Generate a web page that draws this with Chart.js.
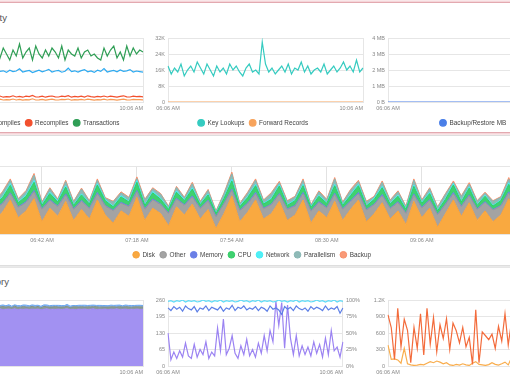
<!DOCTYPE html>
<html>
<head>
<meta charset="utf-8">
<script src="https://cdn.jsdelivr.net/npm/chart.js@4.4.1/dist/chart.umd.min.js"></script>
<style>
html, body { margin: 0; padding: 0; background: #fff; }
body { width: 510px; height: 382px; overflow: hidden; position: relative; font-family: "Liberation Sans", Arial, sans-serif; }
.panel { position: absolute; background: #fff; }
#p1 { left: -10px; top: 2px; width: 530px; height: 129px; border: 1px solid #e3a9b0; box-shadow: 0 0 0 1px #f5d5d9, 0 0 3px 1px #f0c0c6; }
#p2 { left: -10px; top: 135px; width: 530px; height: 129px; border: 1px solid #dedede; box-shadow: 0 1px 2px rgba(0,0,0,.12); }
#p3 { left: -10px; top: 267px; width: 530px; height: 130px; border-top: 1px solid #e6e6e6; }
.title { position: absolute; font-size: 9.5px; color: #555; white-space: nowrap; }
canvas { position: absolute; }
</style>
</head>
<body>
<div class="panel" id="p1"></div>
<div class="panel" id="p2"></div>
<div class="panel" id="p3"></div>
<div class="title" style="right:503px; top:12px;">Activity</div>
<div class="title" style="right:501px; top:276px;">Memory</div>

<canvas id="act1" width="225" height="106" style="left:-79px; top:30px;"></canvas>
<canvas id="act2" width="225" height="106" style="left:141px; top:30px;"></canvas>
<canvas id="act3" width="225" height="106" style="left:361px; top:30px;"></canvas>
<canvas id="waits" width="656" height="110" style="left:-76px; top:158px;"></canvas>
<canvas id="mem1" width="205" height="108" style="left:-59px; top:292px;"></canvas>
<canvas id="mem2" width="222" height="108" style="left:141px; top:292px;"></canvas>
<canvas id="mem3" width="225" height="108" style="left:361px; top:292px;"></canvas>

<script>
// ---- data: activity panel (thousands per interval, 4 min steps) ----
var batchesK = [
  15.2, 15.8, 14.9, 15.5, 16.1, 15.0, 15.6, 14.8, 15.9, 15.3,
  16.4, 15.1, 15.7, 14.9, 15.4, 16.0, 15.3, 15.6, 14.8, 15.9,
  15.2, 15.5, 16.6, 15.0, 15.4, 15.8, 14.7, 15.3, 15.9, 15.1,
  15.6, 16.3, 15.0, 15.5, 15.8, 14.9, 15.4, 16.9, 15.2, 15.6,
  15.0, 15.7, 16.2, 15.1, 15.5, 14.8, 15.9, 15.3, 16.7, 15.0,
  15.4, 15.8, 15.1, 16.0, 15.3, 15.6, 16.2, 15.0, 15.5, 15.2,
  14.9
];
var compilesK = [
  1.1, 1.3, 0.9, 1.2, 1.4, 1.0, 1.2, 0.8, 1.3, 1.1,
  1.5, 1.0, 1.2, 1.3, 0.9, 1.1, 1.4, 1.0, 1.2, 1.1,
  1.5, 1.0, 1.3, 0.9, 1.2, 1.1, 1.6, 1.0, 1.1, 1.3,
  0.9, 1.2, 1.4, 1.1, 1.0, 1.3, 1.2, 1.5, 0.9, 1.2,
  1.1, 1.3, 1.0, 1.4, 1.2, 0.9, 1.2, 1.1, 1.4, 1.0,
  1.3, 1.2, 0.9, 1.2, 1.4, 1.1, 1.0, 1.3, 1.2, 1.2,
  1.1
];
var recompilesK = [
  2.6, 2.9, 2.4, 2.7, 3.1, 2.5, 2.8, 2.3, 2.9, 2.6,
  3.2, 2.4, 2.7, 2.9, 2.5, 2.8, 3.0, 2.4, 2.7, 2.6,
  3.1, 2.5, 2.8, 2.4, 2.9, 2.7, 3.3, 2.5, 2.6, 2.9,
  2.4, 2.8, 3.0, 2.6, 2.5, 2.9, 2.7, 3.2, 2.4, 2.8,
  2.6, 2.9, 2.5, 3.1, 2.7, 2.4, 2.8, 2.6, 3.0, 2.5,
  2.9, 2.7, 2.4, 2.8, 3.1, 2.6, 2.5, 2.9, 2.7, 2.8,
  2.6
];
var transactionsK = [
  25, 22, 27, 21, 26, 24, 28, 22, 26, 23,
  27, 21, 25, 28, 23, 26, 22, 27, 24, 21,
  26, 23, 29, 22, 25, 27, 21, 28, 24, 22,
  26, 23, 27, 25, 22, 28, 21, 26, 24, 23,
  27, 22, 25, 26, 23, 24, 22, 21, 27, 23,
  26, 28, 22, 25, 21, 28, 23, 27, 24, 26,
  25
];
var keyLookupsK = [
  18, 14, 17, 15, 19, 13, 16, 18, 15, 20,
  17, 14, 19, 16, 13, 18, 15, 17, 14, 19,
  16, 18, 15, 13, 17, 19, 15, 16, 14, 30,
  19, 15, 17, 14, 16, 18, 15, 19, 14, 17,
  16, 20, 15, 18, 14, 16, 17, 15, 19, 14,
  16, 18, 15, 17, 20, 16, 18, 15, 21, 15,
  17
];
var forwardRecordsK = [
  0, 0, 0, 0, 0, 0, 0, 0, 0, 0,
  0, 0, 0, 0, 0, 0, 0, 0, 0, 0,
  0, 0, 0, 0, 0, 0, 0, 0, 0, 0,
  0, 0, 0, 0, 0, 0, 0, 0, 0, 0,
  0, 0, 0, 0, 0, 0, 0, 0, 0, 0,
  0, 0, 0, 0, 0, 0, 0, 0, 0, 0,
  0
];
var backupMb = [
  0, 0, 0, 0, 0, 0, 0, 0, 0, 0,
  0, 0, 0, 0, 0, 0, 0, 0, 0, 0,
  0, 0, 0, 0, 0, 0, 0, 0, 0, 0,
  0, 0, 0, 0, 0, 0, 0, 0, 0, 0,
  0, 0, 0, 0, 0, 0, 0, 0, 0, 0,
  0, 0, 0, 0, 0, 0, 0, 0, 0, 0,
  0
];

// ---- data: waits panel (stacked, 3 min steps) ----
var waitDisk = [
  30, 40, 22, 36, 26, 44, 20, 32, 50,
  24, 34, 52, 18, 38, 26, 48, 20, 36,
  22, 50, 28, 16, 34, 26, 54, 20, 38,
  30, 12, 40, 28, 44, 22, 36, 8, 30,
  56, 18, 32, 50, 22, 30, 48, 20, 28,
  50, 16, 34, 24, 48, 20, 36, 50, 18,
  30, 46, 22, 34, 14, 48, 24, 38, 10,
  30, 50, 26, 46, 20, 34, 18, 28, 52,
  24, 38, 20, 44, 26, 36, 22, 42, 30
];
var waitOther = [
  12, 10, 16, 11, 14, 10, 17, 12, 9,
  15, 12, 10, 18, 11, 14, 9, 16, 12,
  15, 9, 13, 18, 11, 14, 8, 16, 12,
  13, 18, 11, 14, 10, 15, 12, 17, 14,
  8, 16, 12, 9, 15, 13, 10, 16, 13,
  9, 17, 12, 14, 10, 16, 11, 9, 17,
  13, 10, 15, 12, 16, 9, 14, 11, 18,
  13, 9, 14, 10, 16, 12, 17, 13, 8,
  15, 12, 16, 10, 14, 12, 15, 11, 13
];
var waitMemory = [
  1.5, 1, 1.5, 1, 1.5, 1, 2, 1, 1.5,
  1, 1.5, 2, 1, 1.5, 1, 2, 1, 1.5,
  1, 2, 1, 1, 1.5, 1, 2, 1, 1.5,
  1, 1, 1.5, 1, 2, 1, 1.5, 1, 1,
  2, 1, 1.5, 2, 1, 1, 1.5, 1, 1,
  2, 1, 1.5, 1, 2, 1, 1.5, 2, 1,
  1, 2, 1, 1.5, 1, 2, 1, 1.5, 1,
  1, 2, 1, 1.5, 1, 1.5, 1, 1, 2,
  1, 1.5, 1, 2, 1, 1.5, 1, 1.5, 1
];
var waitCpu = [
  7, 9, 5, 8, 6, 10, 5, 8, 11,
  6, 8, 12, 5, 9, 6, 10, 5, 8,
  6, 11, 7, 5, 8, 6, 12, 5, 9,
  7, 5, 9, 6, 10, 5, 8, 4, 7,
  12, 5, 8, 10, 6, 7, 11, 5, 7,
  10, 5, 8, 6, 11, 5, 8, 10, 5,
  7, 10, 6, 8, 5, 11, 6, 9, 5,
  7, 11, 6, 10, 5, 8, 5, 7, 11,
  6, 9, 5, 10, 6, 8, 5, 9, 7
];
var waitNetwork = [
  2, 1.5, 1, 2, 1.5, 2, 1, 1.5, 2.5,
  1, 2, 2.5, 1, 2, 1.5, 2, 1, 1.5,
  1, 2, 1.5, 1, 2, 1, 2.5, 1, 2,
  1.5, 1, 2, 1, 2, 1, 1.5, 1, 1,
  2.5, 1, 1.5, 2, 1, 1.5, 2, 1, 1.5,
  2, 1, 1.5, 1, 2, 1, 1.5, 2, 1,
  1.5, 2, 1, 1.5, 1, 2, 1, 2, 1,
  1.5, 2, 1, 2, 1, 1.5, 1, 1, 2.5,
  1, 2, 1, 2, 1.5, 1.5, 1, 2, 1.5
];
var waitParallelism = [
  4, 6, 3, 5, 3, 7, 2, 6, 5,
  4, 5, 8, 3, 5, 2, 6, 4, 7,
  3, 5, 2, 6, 4, 5, 3, 7, 4,
  6, 3, 5, 3, 6, 3, 5, 2, 6,
  8, 3, 5, 6, 4, 7, 3, 5, 4,
  6, 2, 5, 4, 8, 3, 6, 4, 5,
  2, 6, 4, 5, 3, 7, 3, 5, 4,
  6, 2, 7, 4, 5, 3, 6, 4, 5,
  3, 6, 4, 7, 2, 5, 4, 6, 3
];
var waitBackup = [
  1.5, 2, 1, 1.5, 1, 2, 1, 1.5, 2,
  1, 1.5, 2.5, 1, 1.5, 1, 2, 1, 1.5,
  1, 2, 1, 1, 1.5, 1, 2.5, 1, 1.5,
  1, 1, 1.5, 1, 2, 1, 1.5, 1, 1,
  2.5, 1, 1.5, 2, 1, 1.5, 2, 1, 1,
  2, 1, 1.5, 1, 2, 1, 1.5, 2, 1,
  1, 2, 1, 1.5, 1, 2, 1, 1.5, 1,
  1, 2, 1, 2, 1, 1.5, 1, 1, 2.5,
  1, 1.5, 1, 2, 1, 1.5, 1, 1.5, 1
];

// ---- data: memory panel (4 min steps) ----
var bufferPool = [
  86.2, 85.8, 86.5, 85.4, 86.0, 86.7, 85.6, 86.1, 85.3, 86.4,
  85.9, 86.6, 85.5, 86.0, 86.3, 85.7, 86.8, 85.4, 86.1, 85.8,
  86.5, 85.6, 86.2, 85.9, 86.4, 85.3, 86.0, 86.7, 85.6, 86.1,
  85.8, 86.4, 85.5, 86.2, 86.6, 85.7, 86.0, 85.4, 86.3, 85.9,
  86.5, 85.6, 86.1, 86.8, 85.5, 86.0, 85.8, 86.4, 85.3, 86.2,
  85.9, 86.6, 85.7, 86.0, 86.3, 85.5, 86.1, 85.8, 86.5, 85.6,
  86.0
];
var planCache = [
  3.2, 4.1, 2.8, 3.6, 4.4, 3.0, 3.8, 2.6, 4.2, 3.4,
  3.9, 2.9, 4.5, 3.3, 3.7, 2.7, 4.0, 3.5, 3.1, 4.3,
  2.8, 3.6, 4.1, 3.2, 3.9, 2.7, 4.4, 3.0, 3.7, 3.4,
  4.2, 2.9, 3.8, 3.3, 4.0, 2.6, 3.6, 4.3, 3.1, 3.9,
  2.8, 4.1, 3.5, 3.0, 4.4, 3.2, 3.7, 2.9, 4.0, 3.4,
  3.8, 2.7, 4.2, 3.3, 3.6, 4.1, 2.9, 3.9, 3.2, 4.0,
  3.5
];
var otherMem = [
  2.4, 2.0, 2.8, 2.2, 1.8, 2.6, 2.1, 2.9, 2.3, 1.9,
  2.7, 2.2, 2.5, 2.0, 2.8, 2.3, 1.9, 2.6, 2.1, 2.4,
  2.9, 2.0, 2.3, 2.7, 1.8, 2.5, 2.2, 2.8, 2.1, 2.4,
  1.9, 2.6, 2.3, 2.0, 2.7, 2.4, 2.1, 1.8, 2.6, 2.2,
  2.8, 2.0, 2.4, 2.5, 1.9, 2.7, 2.2, 2.3, 2.0, 2.6,
  2.1, 2.8, 2.4, 1.9, 2.5, 2.2, 2.7, 2.0, 2.3, 2.4,
  2.2
];
var freeMem = [
  2.4, 2.9, 2.2, 2.6, 3.1, 2.3, 2.7, 2.1, 2.8, 2.5,
  3.0, 2.3, 2.6, 2.9, 2.2, 2.7, 3.2, 2.4, 2.6, 2.3,
  2.9, 2.5, 2.2, 2.8, 2.6, 3.1, 2.3, 2.7, 2.4, 2.9,
  2.2, 2.6, 3.0, 2.4, 2.7, 2.3, 2.8, 2.5, 2.2, 3.1,
  2.6, 2.4, 2.9, 2.3, 2.7, 2.5, 2.2, 2.8, 3.0, 2.4,
  2.6, 2.3, 2.9, 2.5, 2.7, 2.2, 2.8, 2.4, 3.0, 2.6,
  2.5
];
var grantsMb = [
  130, 25, 55, 30, 60, 35, 90, 40, 30, 85,
  35, 65, 45, 95, 30, 55, 40, 150, 60, 185,
  45, 70, 120, 50, 30, 80, 45, 105, 40, 65,
  35, 90, 50, 120, 60, 140, 95, 255, 160, 250,
  70, 240, 110, 45, 120, 40, 80, 45, 75, 40,
  95, 50, 85, 35, 110, 45, 140, 60, 75, 35,
  95
];
var targetPct = [
  88, 84, 90, 86, 89, 83, 91, 87, 85, 90,
  82, 88, 86, 91, 84, 89, 87, 85, 90, 83,
  88, 86, 92, 84, 89, 87, 91, 85, 88, 86,
  90, 84, 89, 87, 83, 91, 86, 88, 85, 78,
  90, 86, 89, 84, 91, 87, 85, 88, 83, 90,
  86, 89, 87, 84, 91, 85, 88, 86, 90, 80,
  88
];
var usedPct = [
  98, 99, 97, 99, 98, 100, 97, 99, 98, 99,
  97, 98, 100, 98, 99, 97, 99, 98, 100, 97,
  99, 98, 99, 97, 98, 100, 98, 99, 97, 99,
  98, 100, 97, 99, 98, 99, 97, 98, 100, 98,
  99, 97, 99, 98, 100, 97, 99, 98, 99, 97,
  98, 100, 98, 99, 97, 99, 98, 100, 97, 99,
  98
];
var pageReads = [
  930, 700, 120, 1050, 350, 850, 650, 60, 700, 320,
  950, 200, 1050, 400, 880, 260, 750, 500, 860, 300,
  780, 640, 420, 700, 350, 520, 30, 1020, 60, 620,
  550, 480, 580, 320, 720, 450, 950, 380, 810, 520,
  640, 120, 780, 420, 900, 300, 650, 230, 860, 520,
  740, 400, 980, 280, 620, 480, 870, 350, 700, 560,
  800
];
var pageWrites = [
  380, 120, 130, 110, 50, 320, 40, 20, 10, 15,
  30, 20, 50, 80, 60, 90, 70, 40, 60, 20,
  10, 30, 15, 40, 20, 10, 50, 80, 30, 20,
  10, 25, 60, 30, 15, 40, 70, 20, 150, 300,
  120, 20, 40, 60, 30, 15, 25, 80, 140, 60,
  30, 180, 90, 40, 20, 60, 30, 15, 40, 20,
  30
];

// time categories
function timeLabels(count, stepMin) {
  var out = [];
  for (var i = 0; i < count; i++) {
    var m = 6 * 60 + 6 + i * stepMin;
    var h = Math.floor(m / 60), mm = m % 60;
    out.push((h < 10 ? '0' : '') + h + ':' + (mm < 10 ? '0' : '') + mm + ' AM');
  }
  return out;
}
var times4 = timeLabels(61, 4);
var times3 = timeLabels(81, 3);

Chart.defaults.font.family = '"Liberation Sans", Arial, sans-serif';
Chart.defaults.font.size = 5.5;
Chart.defaults.color = '#888';
Chart.defaults.animation = false;
Chart.defaults.events = [];
Chart.defaults.plugins.tooltip.enabled = false;

var GRID = '#e6e6e6';

function legendOpts(show) {
  return {
    display: show !== false,
    position: 'bottom',
    labels: {
      usePointStyle: true,
      boxWidth: 6.6,
      boxHeight: 4.7,
      padding: 5,
      color: '#444',
      font: { size: 6.4 }
    }
  };
}

function line(label, data, color, extra) {
  return Object.assign({
    label: label, data: data, borderColor: color, backgroundColor: color,
    borderWidth: 1.2, pointRadius: 0, fill: false, tension: 0
  }, extra || {});
}

function area(label, data, color, fillColor, first) {
  return {
    label: label, data: data, borderColor: color, backgroundColor: fillColor || color,
    borderWidth: 1, pointRadius: 0, fill: first ? 'origin' : '-1', tension: 0
  };
}

// first time centred under the start, last time flush with the end
function edgeAxes(labels, extra) {
  var n = labels.length;
  return Object.assign({
    x: {
      ticks: {
        autoSkip: false, maxRotation: 0, padding: 3,
        callback: function (v, i) { return i === 0 ? labels[0] : null; }
      },
      grid: { color: GRID, drawTicks: false },
      border: { color: GRID }
    },
    x2: {
      type: 'category', position: 'bottom', weight: 1, labels: labels,
      min: 0, max: n - 1,
      ticks: {
        autoSkip: false, maxRotation: 0, align: 'end', mirror: true, padding: 3,
        callback: function (v, i) { return i === n - 1 ? labels[n - 1] : null; }
      },
      grid: { color: GRID, drawTicks: false },
      border: { display: false },
      afterFit: function (s) { s.height = 0; }
    }
  }, extra);
}

function yAxis(max, step, fmt, width, extra) {
  return Object.assign({
    min: 0, max: max,
    ticks: { stepSize: step, padding: 3, callback: fmt },
    grid: { color: GRID, drawTicks: false },
    border: { display: true, color: GRID },
    afterFit: function (s) { if (width) s.width = width; }
  }, extra || {});
}

var fmtK = function (v) { return v === 0 ? '0' : v + 'K'; };

// Activity: batches / compiles / transactions
new Chart(document.getElementById('act1'), {
  type: 'line',
  data: {
    labels: times4,
    datasets: [
      line('Batches', batchesK, '#2eaaf0'),
      line('Compiles', compilesK, '#f79a55'),
      line('Recompiles', recompilesK, '#f2502e'),
      line('Transactions', transactionsK, '#2f9e55')
    ]
  },
  options: {
    responsive: false,
    layout: { padding: { top: 8, right: 1 } },
    scales: edgeAxes(times4, { y: yAxis(32, 8, fmtK, 27) }),
    plugins: { legend: legendOpts() }
  }
});

// Activity: key lookups / forward records
new Chart(document.getElementById('act2'), {
  type: 'line',
  data: {
    labels: times4,
    datasets: [
      line('Key Lookups', keyLookupsK, '#35cbc0'),
      line('Forward Records', forwardRecordsK, '#f7a35c')
    ]
  },
  options: {
    responsive: false,
    layout: { padding: { top: 8, right: 1 } },
    scales: edgeAxes(times4, { y: yAxis(32, 8, fmtK, 27) }),
    plugins: { legend: legendOpts() }
  }
});

// Activity: backup / restore
new Chart(document.getElementById('act3'), {
  type: 'line',
  data: {
    labels: times4,
    datasets: [line('Backup/Restore MB', backupMb, '#4a7fe8')]
  },
  options: {
    responsive: false,
    layout: { padding: { top: 8, right: 1 } },
    scales: edgeAxes(times4, {
      y: yAxis(4, 1, function (v) { return v === 0 ? '0 B' : v + ' MB'; }, 27)
    }),
    plugins: { legend: legendOpts() }
  }
});

// Waits: stacked area
new Chart(document.getElementById('waits'), {
  type: 'line',
  data: {
    labels: times3,
    datasets: [
      area('Disk', waitDisk, '#f7a23c', '#f9a940', true),
      area('Other', waitOther, '#9a9a9a', '#a3a3a3'),
      area('Memory', waitMemory, '#6a7fe6', '#6a7fe6'),
      area('CPU', waitCpu, '#33cc66', '#3fd170'),
      area('Network', waitNetwork, '#3ff0f7', '#52eef5'),
      area('Parallelism', waitParallelism, '#88b6b3', '#8fbab7'),
      area('Backup', waitBackup, '#f7906c', '#f99a78')
    ]
  },
  options: {
    responsive: false,
    layout: { padding: { top: 8 } },
    scales: {
      x: {
        ticks: {
          autoSkip: false, maxRotation: 0, padding: 3,
          callback: function (v, i) { return (i > 0 && i < 72 && i % 12 === 0) ? times3[i] : null; }
        },
        grid: { color: '#e2e2e2', drawTicks: false },
        border: { color: GRID }
      },
      y: yAxis(100, 25, function (v) { return v; }, 23, { stacked: true })
    },
    plugins: { legend: legendOpts() }
  }
});

// Memory: stacked usage
new Chart(document.getElementById('mem1'), {
  type: 'line',
  data: {
    labels: times4,
    datasets: [
      Object.assign(area('Buffer Pool', bufferPool, '#9c88f0', '#a291f2', true), { stack: 'used' }),
      Object.assign(area('Plan Cache', planCache, '#7f9088', '#8a9c94'), { stack: 'used' }),
      Object.assign(area('Other', otherMem, '#6aa6ee', '#86b6f2'), { stack: 'used' }),
      line('Free', freeMem, '#f04a5a', { stack: 'free' })
    ]
  },
  options: {
    responsive: false,
    layout: { padding: { top: 8, right: 1 } },
    scales: edgeAxes(times4, {
      y: yAxis(100, 25, function (v) { return v + '%'; }, 27, { stacked: true })
    }),
    plugins: { legend: legendOpts() }
  }
});

// Memory: grants and targets
new Chart(document.getElementById('mem2'), {
  type: 'line',
  data: {
    labels: times4,
    datasets: [
      line('Used %', usedPct, '#5fdcf7', { yAxisID: 'y1' }),
      line('Target %', targetPct, '#5d7fe6', { yAxisID: 'y1' }),
      line('Grants MB', grantsMb, '#9b83f2', { yAxisID: 'y' })
    ]
  },
  options: {
    responsive: false,
    layout: { padding: { top: 8 } },
    scales: edgeAxes(times4, {
      y: yAxis(260, 65, function (v) { return v; }, 27),
      y1: yAxis(100, 25, function (v) { return v + '%'; }, 0, {
        position: 'right',
        grid: { drawOnChartArea: false, drawTicks: false }
      })
    }),
    plugins: { legend: legendOpts() }
  }
});

// Memory: page reads / writes
new Chart(document.getElementById('mem3'), {
  type: 'line',
  data: {
    labels: times4,
    datasets: [
      line('Page Reads', pageReads, '#f36b3b'),
      line('Page Writes', pageWrites, '#f9ad4d')
    ]
  },
  options: {
    responsive: false,
    layout: { padding: { top: 8, right: 1 } },
    scales: edgeAxes(times4, {
      y: yAxis(1200, 300, function (v) { return v >= 1000 ? (v / 1000) + 'K' : v; }, 27)
    }),
    plugins: { legend: legendOpts() }
  }
});
</script>
</body>
</html>
